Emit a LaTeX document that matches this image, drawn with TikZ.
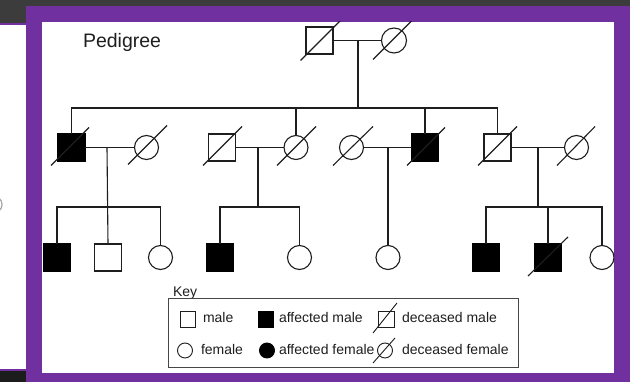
\documentclass[tikz,border=0pt]{standalone}
\usepackage{fontspec}
\setmainfont{Liberation Sans}
\definecolor{framepurple}{RGB}{112,48,160}
\definecolor{topdark}{RGB}{60,60,60}
\definecolor{lowdark}{RGB}{28,28,28}
\definecolor{ink}{RGB}{30,30,30}
\definecolor{boxgray}{RGB}{70,70,70}
\begin{document}
\begin{tikzpicture}[x=1pt,y=-1pt,
  every node/.style={inner sep=0pt, outer sep=0pt},
  link/.style={draw=ink, line width=1.1pt},
  male/.style={rectangle, draw=ink, line width=1.1pt, minimum size=27pt, fill=white},
  female/.style={circle, draw=ink, line width=1.1pt, minimum size=24pt, fill=white},
  affected/.style={fill=black, draw=black},
  keymale/.style={rectangle, draw=ink, line width=0.9pt, minimum size=15.5pt, fill=white},
  keyfemale/.style={circle, draw=ink, line width=0.9pt, minimum size=15pt, fill=white},
  keytext/.style={anchor=base west, text=ink, font=\fontsize{14}{16}\selectfont},
]
\useasboundingbox (0,0) rectangle (630,382);

% ---- backdrop: slide edge on the left, dark top strip, purple frame ----
\fill[topdark] (0,0) rectangle (630,6);
\fill[topdark] (0,0) rectangle (26,23);
\fill[framepurple] (0,23) rectangle (26,25);
\fill[white] (0,25) rectangle (26,369);
\fill[framepurple] (0,369) rectangle (26,371);
\fill[lowdark] (0,371) rectangle (26,382);
\draw[gray!70, line width=1.2pt] (-1,198) .. controls (3,201) and (3,208) .. (-1,211);
\fill[framepurple] (26,6) rectangle (630,382);
\fill[white] (42,22) rectangle (614,373);

\begin{scope}
\clip (42,22) rectangle (614,373);

\node[anchor=base west, text=ink, font=\fontsize{19.5}{22}\selectfont] (title) at (83,48) {Pedigree};

% ---- generation I ----
\node[male]   (g1m) at (319.5,40.5) {};
\node[female, minimum size=25pt] (g1f) at (394,40.5) {};
\draw[link] (g1m) +(-19,20) -- +(21,-20);
\draw[link] (g1f) +(-21,19) -- +(21,-23);
\draw[link] (g1m) -- (g1f);
\coordinate (g1mid) at (358,40.5);
\coordinate (g1sib) at (358,108);
\draw[link] (g1mid) -- (g1sib);

% ---- generation II ----
\node[male, affected] (a1) at (71.5,147.5) {};
\node[female]         (a2) at (146.5,147.5) {};
\node[male]           (b1) at (222,147.5) {};
\node[female]         (b2) at (296,147.5) {};
\node[female]         (c1) at (351.5,147.5) {};
\node[male, affected] (c2) at (425,147.5) {};
\node[male]           (d1) at (497.5,147.5) {};
\node[female]         (d2) at (576.5,147.5) {};

% deceased marks
\draw[link] (a1) +(-20.5,18) -- +(17.5,-20);
\draw[link] (a2) +(-18.5,17) -- +(20.5,-22);
\draw[link] (b1) +(-19,18) -- +(20,-21);
\draw[link] (b2) +(-19,18) -- +(20,-21);
\draw[link] (c1) +(-18.5,18) -- +(21.5,-21);
\draw[link] (c2) +(-18,18) -- +(20,-20);
\draw[link] (d1) +(-19.5,18) -- +(19.5,-21);
\draw[link] (d2) +(-19.5,18) -- +(18.5,-21);

% sibship of generation I
\draw[link] (a1.north) |- (g1sib) -| (d1.north);
\draw[link] (b2.north) -- (b2.north |- g1sib);
\draw[link] (c2.north) -- (c2.north |- g1sib);

% marriages
\draw[link] (a1) -- (a2);
\draw[link] (b1) -- (b2);
\draw[link] (c1) -- (c2);
\draw[link] (d1) -- (d2);

% ---- generation III ----
\node[male, affected] (a3) at (57,257.5) {};
\node[male]           (a4) at (108,257.5) {};
\node[female]         (a5) at (160.5,257.5) {};
\node[male, affected] (b3) at (220,257.5) {};
\node[female]         (b4) at (299.5,257.5) {};
\node[female]         (c3) at (388,257.5) {};
\node[male, affected] (d3) at (486,257.5) {};
\node[male, affected] (d4) at (548,257.5) {};
\node[female]         (d5) at (602,257.5) {};
\draw[link] (d4) +(-20,18.5) -- +(20,-20.5);

% family A
\coordinate (amid) at (107,147.5);
\coordinate (asib) at (107,207);
\draw[link] (amid) -- (a4.north);
\draw[link] (a3.north) |- (asib) -| (a5.north);
% family B
\coordinate (bmid) at (258,147.5);
\coordinate (bsib) at (258,207);
\draw[link] (bmid) -- (bsib);
\draw[link] (b3.north) |- (bsib) -| (b4.north);
% family C
\coordinate (cmid) at (388,147.5);
\draw[link] (cmid) -- (c3.north);
% family D
\coordinate (dmid) at (538,147.5);
\coordinate (dsib) at (538,207);
\draw[link] (dmid) -- (dsib);
\draw[link] (d3.north) |- (dsib) -| (d5.north);
\draw[link] (d4.north) -- (d4.north |- dsib);

% ---- key ----
\node[keytext] (keylabel) at (173,297) {Key};
\node[draw=boxgray, line width=1pt, rectangle, minimum width=350pt, minimum height=69pt, anchor=north west] (keybox) at (168,299) {};

\node[keymale] (k1) at (188,319.5) {};
\node[keytext] (k1t) at (203,323) {male};
\node[keymale, affected] (k2) at (266,319.5) {};
\node[keytext] (k2t) at (279,323) {affected male};
\node[keymale] (k3) at (386.5,319.5) {};
\draw[link, line width=0.9pt] (k3) +(-13.5,13.5) -- +(10.5,-16.5);
\node[keytext] (k3t) at (402,323) {deceased male};

\node[keyfemale] (k4) at (185,350.5) {};
\node[keytext] (k4t) at (201,355) {female};
\node[keyfemale, affected] (k5) at (267,350.5) {};
\node[keytext] (k5t) at (279,355) {affected female};
\node[keyfemale] (k6) at (385,350.5) {};
\draw[link, line width=0.9pt] (k6) +(-12,12.5) -- +(10,-12.5);
\node[keytext] (k6t) at (402,355) {deceased female};
\end{scope}
\end{tikzpicture}
\end{document}
